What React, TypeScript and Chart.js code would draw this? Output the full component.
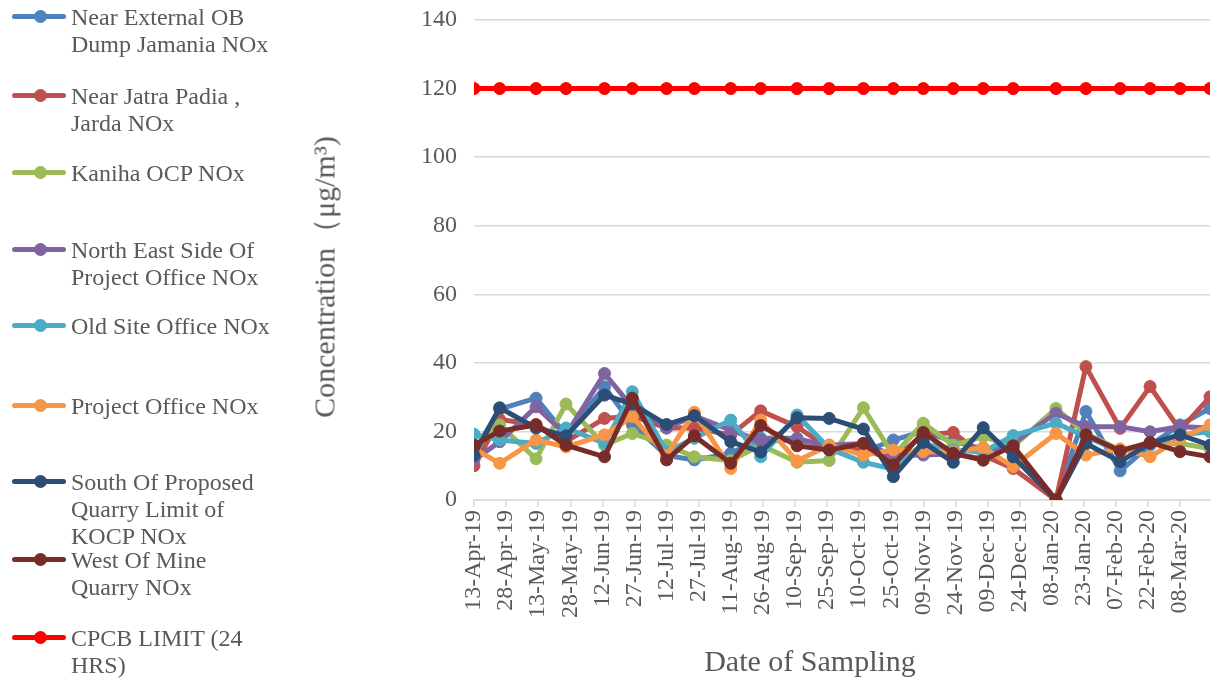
import React, { useEffect, useRef } from "react";
import { Chart, registerables } from "chart.js";

Chart.register(...registerables);

// Sampling dates (x positions follow the date axis)
const SAMPLING_DATES = [
  "2019-04-13", "2019-04-25", "2019-05-12", "2019-05-26", "2019-06-13", "2019-06-26",
  "2019-07-12", "2019-07-25", "2019-08-11", "2019-08-25", "2019-09-11", "2019-09-26",
  "2019-10-12", "2019-10-26", "2019-11-09", "2019-11-23", "2019-12-07", "2019-12-21",
  "2020-01-10", "2020-01-24", "2020-02-09", "2020-02-23", "2020-03-08", "2020-03-22",
];

// Major tick labels, one every 15 days from the first date
const X_TICK_LABELS = [
  "13-Apr-19", "28-Apr-19", "13-May-19", "28-May-19", "12-Jun-19", "27-Jun-19",
  "12-Jul-19", "27-Jul-19", "11-Aug-19", "26-Aug-19", "10-Sep-19", "25-Sep-19",
  "10-Oct-19", "25-Oct-19", "09-Nov-19", "24-Nov-19", "09-Dec-19", "24-Dec-19",
  "08-Jan-20", "23-Jan-20", "07-Feb-20", "22-Feb-20", "08-Mar-20",
];

const NEAR_EXTERNAL_OB = [14, 26.5, 29.7, 19, 33, 22, 13, 11.7, 13.6, 18, 18, 15.5, 14, 17.5, 20, 17, 15, 15, 0, 25.8, 8.5, 16, 21.9, 26.7];
const NEAR_JATRA_PADIA = [10, 23.5, 22, 17, 23.8, 24.5, 21, 21, 19, 26, 21.4, 15, 14.5, 12, 19, 19.7, 13, 9.2, 0, 38.9, 20.9, 33.1, 20.4, 30.1];
const KANIHA_OCP = [15, 21.9, 12, 28, 16, 19.4, 16, 12.6, 11.5, 16, 11, 11.5, 26.9, 13, 22.4, 16, 18.5, 15.6, 26.7, 19.4, 14.6, 16.5, 16.5, 15];
const NORTH_EAST_SIDE = [11.7, 17, 27.2, 19, 36.9, 27, 21, 24.5, 20.4, 17.2, 17.5, 16, 16.5, 13, 13.1, 13.5, 12, 16.5, 25.3, 21.4, 21.4, 19.9, 21.4, 21];
const OLD_SITE_OFFICE = [19.2, 17.5, 16.5, 21, 16.5, 31.6, 14, 18, 23.3, 12.6, 24.8, 15, 11, 9, 16.5, 14.6, 14, 18.8, 22.4, 18.5, 14, 16, 19, 19.9];
const PROJECT_OFFICE = [15, 10.7, 17.5, 15.5, 19, 24.3, 13, 25.6, 9.2, 23.3, 11.4, 16, 13.1, 14.6, 14.1, 14, 15.3, 9.7, 19.4, 13.1, 14.9, 12.6, 18, 21.9];
const SOUTH_OF_PROPOSED = [13, 26.9, 21, 18.7, 30.6, 28, 22, 24.6, 17, 14, 24, 23.8, 20.7, 6.8, 16.8, 11, 21.1, 12.6, 0, 16.5, 11.2, 16.5, 19, 16];
const WEST_OF_MINE = [16, 20.1, 21.9, 16, 12.6, 29.7, 11.7, 18.7, 10.7, 21.7, 15.8, 14.6, 16.5, 10.2, 19.7, 13.6, 11.6, 15.8, 0, 19, 14.3, 16.8, 14.1, 12.6];
const CPCB_LIMIT = [120, 120, 120, 120, 120, 120, 120, 120, 120, 120, 120, 120, 120, 120, 120, 120, 120, 120, 120, 120, 120, 120, 120, 120];

const SERIES_NAMES = [
  "Near External OB\nDump Jamania NOx",
  "Near Jatra Padia ,\nJarda NOx",
  "Kaniha OCP NOx",
  "North East Side Of\nProject Office NOx",
  "Old Site Office NOx",
  "Project Office NOx",
  "South Of Proposed\nQuarry Limit of\nKOCP NOx",
  "West Of Mine\nQuarry NOx",
  "CPCB LIMIT (24\nHRS)",
];
const SERIES_VALUES = [
  NEAR_EXTERNAL_OB, NEAR_JATRA_PADIA, KANIHA_OCP, NORTH_EAST_SIDE, OLD_SITE_OFFICE,
  PROJECT_OFFICE, SOUTH_OF_PROPOSED, WEST_OF_MINE, CPCB_LIMIT,
];
const SERIES_COLORS = [
  "#4F81BD", "#C0504D", "#9BBB59", "#8064A2", "#4BACC6",
  "#F79646", "#2C4D75", "#772C2A", "#FF0000",
];

const LEGEND_TOPS = [4, 83, 160, 237, 313, 393, 469, 547, 625];

const FONT = "'Liberation Serif', 'Times New Roman', serif";
const TEXT_COLOR = "#595959";
const GRID_COLOR = "#D9D9D9";

const dayOffset = (iso: string) =>
  Math.round((Date.parse(iso + "T00:00:00Z") - Date.parse(SAMPLING_DATES[0] + "T00:00:00Z")) / 86400000);

export default function App() {
  const canvasRef = useRef<HTMLCanvasElement | null>(null);

  useEffect(() => {
    if (!canvasRef.current) return;
    const days = SAMPLING_DATES.map(dayOffset);
    const n = SERIES_VALUES.length;
    const chart = new Chart(canvasRef.current, {
      type: "line",
      data: {
        datasets: SERIES_VALUES.map((vals, i) => ({
          label: SERIES_NAMES[i].replace(/\n/g, " "),
          data: vals.map((v, j) => ({ x: days[j], y: v })),
          borderColor: SERIES_COLORS[i],
          backgroundColor: SERIES_COLORS[i],
          pointBackgroundColor: SERIES_COLORS[i],
          pointBorderColor: SERIES_COLORS[i],
          borderWidth: 5,
          pointRadius: 6,
          pointBorderWidth: 1,
          tension: 0,
          order: n - i,
        })),
      },
      options: {
        animation: false,
        responsive: false,
        layout: { padding: { top: 20, right: 8, left: 0, bottom: 0 } },
        plugins: { legend: { display: false }, tooltip: { enabled: false } },
        scales: {
          x: {
            type: "linear",
            min: 0,
            max: days[days.length - 1],
            afterBuildTicks: (scale: any) => {
              scale.ticks = X_TICK_LABELS.map((_, i) => ({ value: i * 15 }));
            },
            afterFit: (scale: any) => {
              scale.height = 181;
              scale.paddingLeft = 0;
              scale.paddingRight = 0;
            },
            ticks: {
              autoSkip: false,
              maxRotation: 90,
              minRotation: 90,
              padding: 3,
              color: TEXT_COLOR,
              font: { family: FONT, size: 24 },
              callback: (value: any) => X_TICK_LABELS[Math.round(Number(value) / 15)] ?? "",
            },
            grid: {
              drawOnChartArea: false,
              drawTicks: true,
              tickLength: 7,
              color: GRID_COLOR,
              lineWidth: 1.5,
            },
            border: { color: GRID_COLOR, width: 1.5 },
          },
          y: {
            min: 0,
            max: 140,
            afterFit: (scale: any) => {
              scale.width = 474;
              scale.paddingTop = 0;
              scale.paddingBottom = 0;
            },
            ticks: {
              stepSize: 20,
              padding: 17,
              color: TEXT_COLOR,
              font: { family: FONT, size: 24 },
            },
            grid: { color: GRID_COLOR, lineWidth: 1.5, drawTicks: false },
            border: { display: false },
          },
        },
      },
    });
    return () => chart.destroy();
  }, []);

  return (
    <div
      style={{
        position: "fixed",
        left: 0,
        top: 0,
        width: 1218,
        height: 681,
        background: "#ffffff",
        overflow: "hidden",
        fontFamily: FONT,
      }}
    >
      <canvas
        ref={canvasRef}
        width={1218}
        height={681}
        style={{ position: "absolute", left: 0, top: 0, width: 1218, height: 681 }}
      />
      {SERIES_NAMES.map((name, i) => (
        <div key={i} style={{ position: "absolute", left: 0, top: LEGEND_TOPS[i] }}>
          <div
            style={{
              position: "absolute",
              left: 12,
              top: 10,
              width: 54,
              height: 5,
              borderRadius: 2.5,
              background: SERIES_COLORS[i],
            }}
          />
          <div
            style={{
              position: "absolute",
              left: 34,
              top: 6,
              width: 13,
              height: 13,
              borderRadius: 6.5,
              background: SERIES_COLORS[i],
            }}
          />
          <div
            style={{
              position: "absolute",
              left: 71,
              top: 0,
              whiteSpace: "pre",
              fontSize: 24,
              lineHeight: "27px",
              color: TEXT_COLOR,
            }}
          >
            {name}
          </div>
        </div>
      ))}
      <div
        style={{
          position: "absolute",
          left: 325,
          top: 277,
          transform: "translate(-50%, -50%) rotate(-90deg)",
          whiteSpace: "nowrap",
          fontSize: 30,
          color: TEXT_COLOR,
        }}
      >
        Concentration（μg/m³)
      </div>
      <div
        style={{
          position: "absolute",
          left: 810,
          top: 661,
          transform: "translate(-50%, -50%)",
          whiteSpace: "nowrap",
          fontSize: 30,
          color: TEXT_COLOR,
        }}
      >
        Date of Sampling
      </div>
    </div>
  );
}
